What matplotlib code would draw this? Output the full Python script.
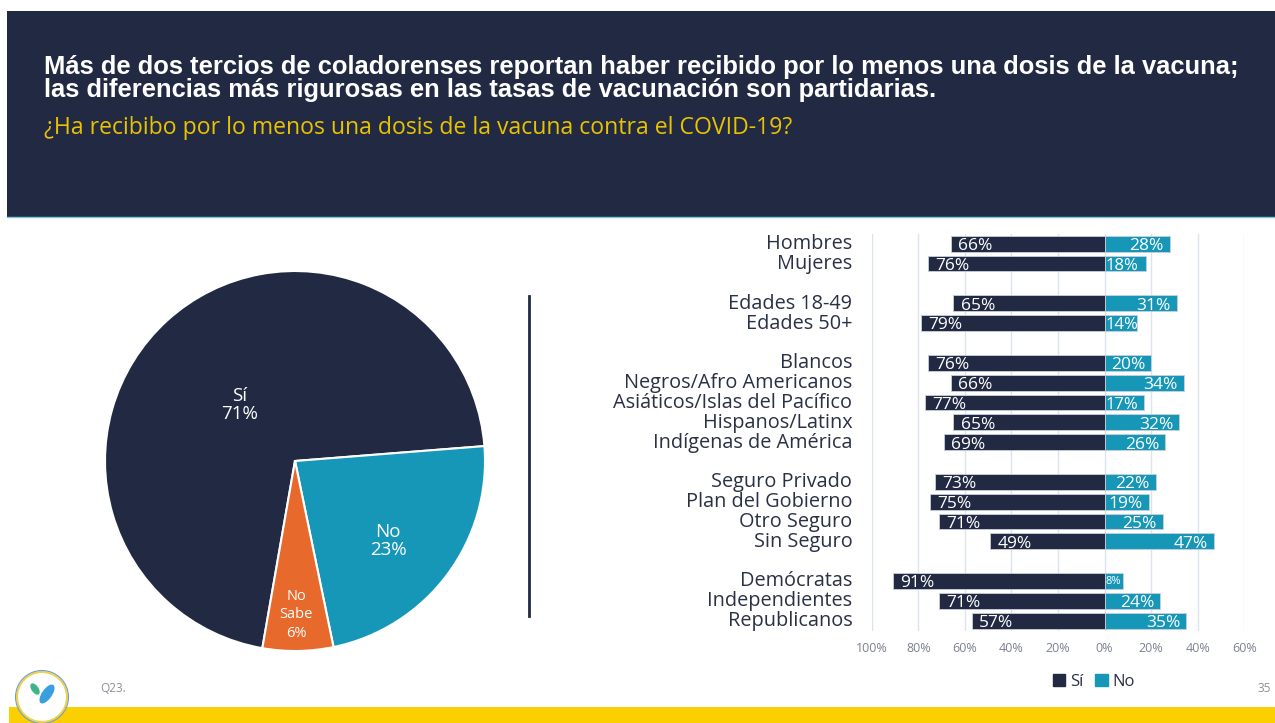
import matplotlib.pyplot as plt
import matplotlib.patches as patches
import matplotlib.transforms as mtrans
import numpy as np

# Colours
NAVY = '#222a43'
TEAL = '#1797b8'
ORANGE = '#e8692c'
YELLOW = '#fcd000'
GRID = '#dde3ec'
TXT = '#2a3145'

# Pie data
pie_labels = ['Sí\n71%', 'No\n23%', 'No\nSabe\n6%']
pie_values = [71, 23, 6]

# Bar data
categories = ['Hombres', 'Mujeres', 'Edades 18-49', 'Edades 50+', 'Blancos',
              'Negros/Afro Americanos', 'Asiáticos/Islas del Pacífico', 'Hispanos/Latinx',
              'Indígenas de América', 'Seguro Privado', 'Plan del Gobierno', 'Otro Seguro',
              'Sin Seguro', 'Demócratas', 'Independientes', 'Republicanos']
si = [66, 76, 65, 79, 76, 66, 77, 65, 69, 73, 75, 71, 49, 91, 71, 57]
no = [28, 18, 31, 14, 20, 34, 17, 32, 26, 22, 19, 25, 47, 8, 24, 35]
group_sizes = [2, 2, 5, 4, 3]
xticks = [-100, -80, -60, -40, -20, 0, 20, 40, 60]

W, H = 1275, 723
fig = plt.figure(figsize=(W / 100, H / 100), dpi=100)
fig.patch.set_facecolor('white')

# background axes in pixel coords for the slide decoration
bg = fig.add_axes([0, 0, 1, 1])
bg.set_xlim(0, W)
bg.set_ylim(H, 0)
bg.axis('off')

bg.add_patch(patches.Rectangle((7, 11), W - 7, 206, facecolor=NAVY, edgecolor='none'))
bg.plot([7, W], [217, 217], color='#7fc4d6', lw=1)
bg.text(44, 74, 'Más de dos tercios de coladorenses reportan haber recibido por lo menos una dosis de la vacuna;',
        color='white', fontsize=18.4, fontweight='bold', family='Liberation Sans', va='baseline')
bg.text(44, 97, 'las diferencias más rigurosas en las tasas de vacunación son partidarias.',
        color='white', fontsize=18.4, fontweight='bold', family='Liberation Sans', va='baseline')
bg.text(44, 134, '¿Ha recibibo por lo menos una dosis de la vacuna contra el COVID-19?',
        color='#e9c200', fontsize=16.6, family='Open Sans', va='baseline')

# footer
bg.add_patch(patches.Rectangle((9, 707), W - 9, 16, facecolor=YELLOW, edgecolor='none'))
bg.add_patch(patches.Circle((42, 697), 25, facecolor='white', edgecolor='#f2d24a', lw=1.5, zorder=3))
bg.add_patch(patches.Circle((42, 697), 26.5, facecolor='none', edgecolor='#6f9fd8', lw=0.8, zorder=3))
bg.add_patch(patches.Ellipse((35, 689), 7, 13, angle=-35, facecolor='#3cb58a', edgecolor='none', zorder=4))
bg.add_patch(patches.Ellipse((47, 694), 10, 22, angle=35, facecolor='#3a9fe0', edgecolor='none', zorder=4))
bg.text(100, 689, 'Q23.', color='#8a8f99', fontsize=8.5, family='Open Sans', va='center')
bg.text(1258, 689, '35', color='#8a8f99', fontsize=8.5, family='Open Sans', va='center')

# separator
bg.plot([529, 529], [296, 616], color=NAVY, lw=2)

# Pie chart
cx, cy, r = 295, 461, 190
pax = fig.add_axes([(cx - r) / W, 1 - (cy + r) / H, 2 * r / W, 2 * r / H])
wedges, _ = pax.pie(pie_values, colors=[NAVY, TEAL, ORANGE], startangle=260.1,
                    counterclock=False, radius=1,
                    wedgeprops=dict(edgecolor='white', linewidth=1.5))
pax.set_xlim(-1, 1)
pax.set_ylim(-1, 1)
pax.set_aspect('equal')
pax.text((240 - cx) / r, (cy - 405) / r, pie_labels[0], color='white', fontsize=13.5,
         ha='center', va='center', family='Open Sans', linespacing=1.0)
pax.text((388 - cx) / r, (cy - 541) / r, pie_labels[1], color='white', fontsize=13.5,
         ha='center', va='center', family='Open Sans', linespacing=1.0)
pax.text((296 - cx) / r, (cy - 615) / r, pie_labels[2], color='white', fontsize=10.5,
         ha='center', va='center', family='Open Sans', linespacing=1.3)

# Bar chart positions with a blank row between groups
pos = []
p = 0
for g in group_sizes:
    for k in range(g):
        pos.append(p)
        p += 1
    p += 1
pos = np.array(pos)

x0, x1 = 871.7, 1244.3
y0, y1 = 233.8, 630.6
bax = fig.add_axes([x0 / W, 1 - y1 / H, (x1 - x0) / W, (y1 - y0) / H])
bax.barh(pos, [-v for v in si], height=0.8, color=NAVY, edgecolor='#c9d0dc', linewidth=0.6, zorder=3)
bax.barh(pos, no, height=0.8, color=TEAL, edgecolor='#c9d0dc', linewidth=0.6, zorder=3)
for yp, s, n in zip(pos, si, no):
    bax.text(-s + 3.2, yp + 0.12, f'{s}%', color='white', fontsize=12.5, va='center', ha='left',
             family='Open Sans', zorder=4)
    if n < 10:
        bax.text(n - 0.8, yp + 0.05, f'{n}%', color='white', fontsize=8, va='center', ha='right',
                 family='Open Sans', zorder=4)
    elif n - 2.5 < 16:
        bax.text(0.3, yp + 0.12, f'{n}%', color='white', fontsize=12, va='center', ha='left',
                 family='Open Sans', zorder=4)
    else:
        bax.text(n - 2.5, yp + 0.12, f'{n}%', color='white', fontsize=12.5, va='center', ha='right',
                 family='Open Sans', zorder=4)

bax.set_xlim(-100, 60)
bax.set_ylim(19.5, -0.5)
bax.set_xticks(xticks)
bax.set_xticklabels([f'{abs(t)}%' for t in xticks], color='#7d8290', fontsize=9, family='Open Sans')
bax.set_yticks(pos)
bax.set_yticklabels(categories, color=TXT, fontsize=14.3, family='Open Sans')
bax.tick_params(axis='both', length=0)
bax.tick_params(axis='y', pad=14)
bax.tick_params(axis='x', pad=8)
shift = mtrans.ScaledTranslation(0, 2 / 100, fig.dpi_scale_trans)
for lab in bax.get_yticklabels():
    lab.set_transform(lab.get_transform() + shift)
bax.xaxis.grid(True, color=GRID, lw=1, zorder=0)
for s in bax.spines.values():
    s.set_visible(False)

handles = [patches.Patch(color=NAVY, label='Sí'), patches.Patch(color=TEAL, label='No')]
fig.legend(handles=handles, loc='center', bbox_to_anchor=(1094 / W, 1 - 682 / H), ncol=2,
           frameon=False, handlelength=0.75, handleheight=0.75, handletextpad=0.3, columnspacing=0.7,
           prop={'family': 'Open Sans', 'size': 12})
for t in fig.legends[0].get_texts():
    t.set_color(TXT)

fig.savefig('out.png', dpi=100)
